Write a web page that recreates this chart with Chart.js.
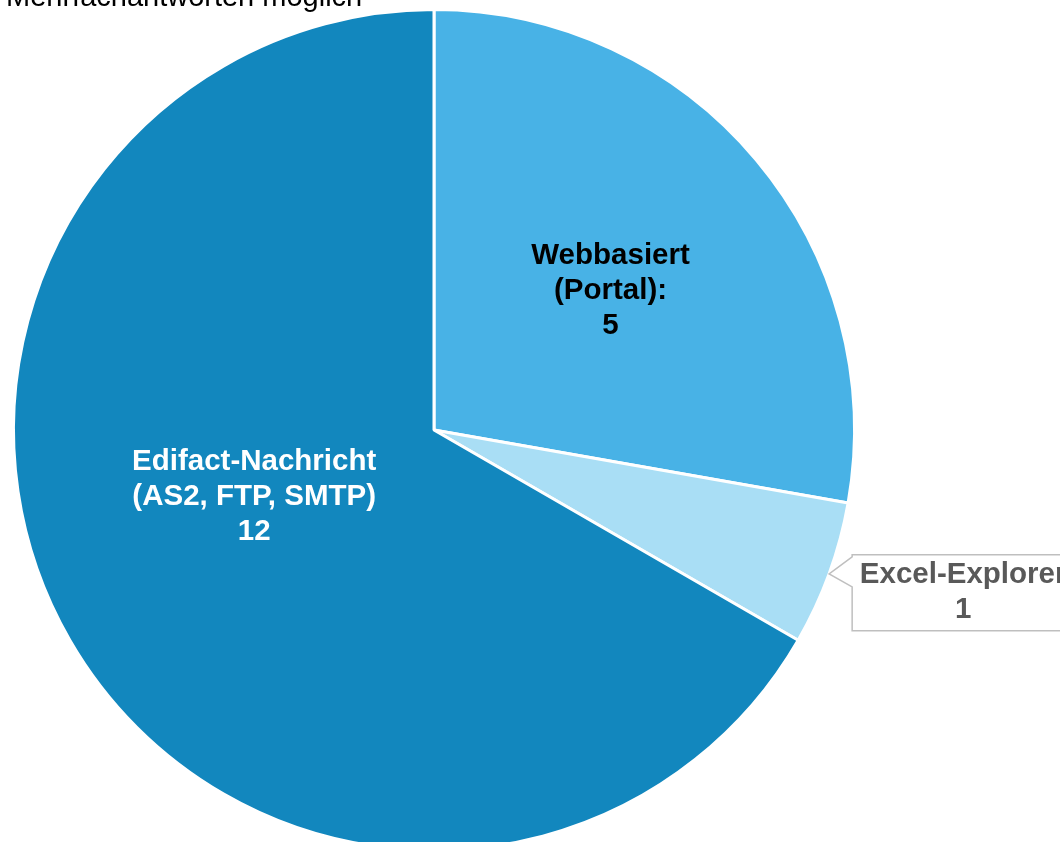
<!DOCTYPE html>
<html>
<head>
<meta charset="utf-8">
<script src="https://cdn.jsdelivr.net/npm/chart.js@4.4.0/dist/chart.umd.min.js"></script>
<style>
    html, body {
        margin: 0;
        padding: 0;
        background: #fff;
        overflow: hidden;
    }
    .wrap {
        position: relative;
        width: 1060px;
        height: 842px;
        overflow: hidden;
    }
    .note {
        position: absolute;
        left: 6px;
        top: -18px;
        font: 29px "Liberation Sans", Arial, sans-serif;
        line-height: 29px;
        color: #000;
        white-space: nowrap;
        z-index: 2;
    }
    canvas {
        position: absolute;
        left: 0;
        top: 0;
    }
</style>
</head>
<body>
<div class="wrap">
    <div class="note">Mehrfachantworten möglich</div>
    <canvas id="pieChart" width="1060" height="880"></canvas>
</div>
<script>
// Data
const SLICE_LABELS = [
    ['Webbasiert', '(Portal):'],
    ['Excel-Explorer'],
    ['Edifact-Nachricht', '(AS2, FTP, SMTP)']
];
const SLICE_VALUES = [5, 1, 12];
const SLICE_COLORS = ['#48B2E6', '#A9DEF5', '#1287BE'];

// Label style per slice: inside (radius fraction, angle shift in degrees) or callout
const LABEL_STYLE = [
    { mode: 'inside', radius: 0.535, shift: 1.7, color: '#000000' },
    { mode: 'callout', color: '#595959' },
    { mode: 'inside', radius: 0.456, shift: 9.7, color: '#FFFFFF' }
];

const FONT = 'bold 29.5px "Liberation Sans", Arial, sans-serif';
const LINE_HEIGHT = 35;

function drawLines(ctx, lines, x, y, color) {
    ctx.fillStyle = color;
    ctx.textAlign = 'center';
    ctx.textBaseline = 'middle';
    const top = y - (lines.length - 1) * LINE_HEIGHT / 2;
    lines.forEach((line, i) => ctx.fillText(line, x, top + i * LINE_HEIGHT));
}

// Slice labels plugin
const sliceLabels = {
    id: 'sliceLabels',
    afterDatasetsDraw: (chart) => {
        const ctx = chart.ctx;
        const meta = chart.getDatasetMeta(0);
        ctx.save();
        ctx.font = FONT;
        meta.data.forEach((arc, i) => {
            const { x, y, startAngle, endAngle, outerRadius } = arc.getProps(['x', 'y', 'startAngle', 'endAngle', 'outerRadius'], true);
            const mid = (startAngle + endAngle) / 2;
            const style = LABEL_STYLE[i];
            const lines = SLICE_LABELS[i].concat([String(SLICE_VALUES[i])]);

            if (style.mode === 'inside') {
                const a = mid + style.shift * Math.PI / 180;
                const r = outerRadius * style.radius;
                drawLines(ctx, lines, x + Math.cos(a) * r, y + Math.sin(a) * r, style.color);
            } else {
                // Callout box with pointer
                const tipX = x + Math.cos(mid) * outerRadius;
                const tipY = y + Math.sin(mid) * outerRadius;
                const boxL = tipX + 23;
                const boxT = tipY - 19;
                const boxW = 222;
                const boxH = 76;
                ctx.beginPath();
                ctx.moveTo(boxL, boxT);
                ctx.lineTo(boxL + boxW, boxT);
                ctx.lineTo(boxL + boxW, boxT + boxH);
                ctx.lineTo(boxL, boxT + boxH);
                ctx.lineTo(boxL, tipY + 13);
                ctx.lineTo(tipX, tipY);
                ctx.lineTo(boxL, boxT + 2);
                ctx.closePath();
                ctx.fillStyle = '#FFFFFF';
                ctx.fill();
                ctx.strokeStyle = '#BFBFBF';
                ctx.lineWidth = 1.5;
                ctx.stroke();
                drawLines(ctx, lines, boxL + boxW / 2, boxT + boxH / 2, style.color);
            }
        });
        ctx.restore();
    }
};

const ctx = document.getElementById('pieChart').getContext('2d');
new Chart(ctx, {
    type: 'pie',
    data: {
        labels: SLICE_LABELS.map(l => l.join(' ')),
        datasets: [{
            data: SLICE_VALUES,
            backgroundColor: SLICE_COLORS,
            borderColor: '#FFFFFF',
            borderWidth: 3
        }]
    },
    options: {
        responsive: false,
        animation: false,
        layout: {
            padding: { left: 12, top: 8, right: 204, bottom: 28 }
        },
        plugins: {
            legend: { display: false },
            tooltip: { enabled: false }
        }
    },
    plugins: [sliceLabels]
});
</script>
</body>
</html>
